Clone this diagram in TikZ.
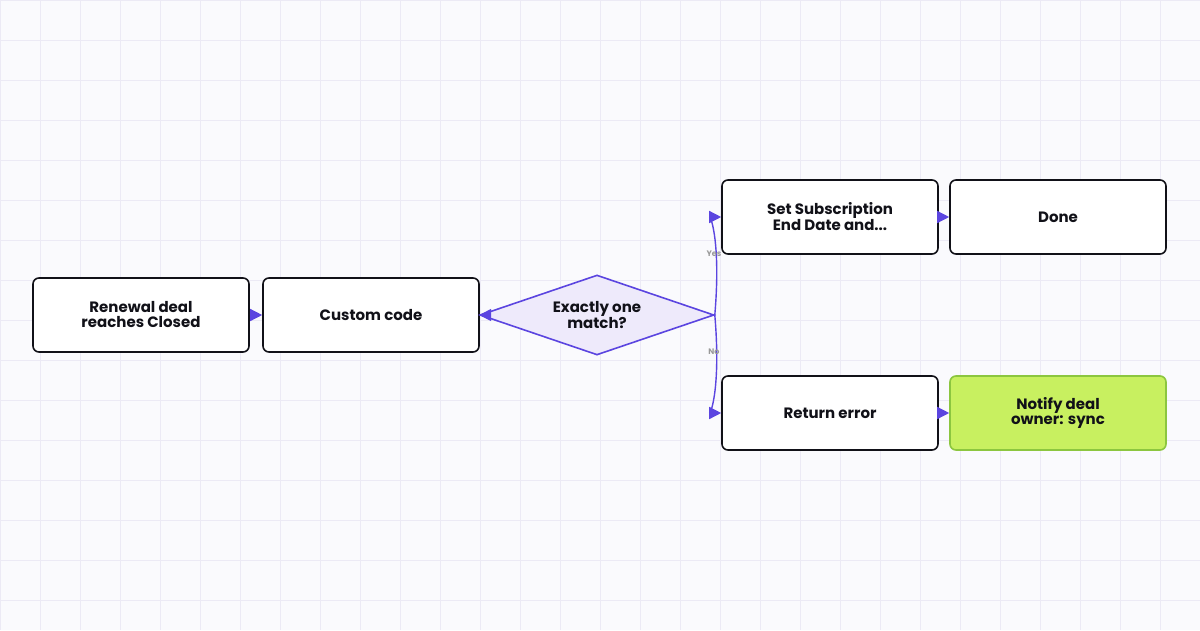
\documentclass[tikz,border=0pt]{standalone}
\usepackage{fontspec}
\setmainfont{Poppins}
\usetikzlibrary{arrows.meta,shapes.geometric}
\definecolor{flowpurple}{HTML}{5B45E0}
\definecolor{diamondfill}{HTML}{EEEAFB}
\definecolor{limefill}{HTML}{C8F060}
\definecolor{limeline}{HTML}{8CC63F}
\definecolor{gridcolor}{HTML}{ECEAF5}
\definecolor{bgcolor}{HTML}{FAFAFD}
\definecolor{textdark}{HTML}{111118}
\tikzset{
  stepbox/.style={draw=textdark, line width=1.6pt, rounded corners=6pt, fill=white,
    minimum width=216pt, minimum height=74pt, align=center, inner sep=2pt,
    font=\fontsize{15}{15}\selectfont\bfseries, text=textdark},
  decision/.style={diamond, draw=flowpurple, line width=1.6pt, fill=diamondfill,
    minimum width=234pt, minimum height=80pt, aspect=2.9, inner sep=0pt, align=center,
    font=\fontsize{15}{15}\selectfont\bfseries, text=textdark},
  flow/.style={draw=flowpurple, line width=1.4pt, -{Triangle[length=12pt,width=12pt]}},
  edgelabel/.style={font=\fontsize{8}{8}\selectfont\bfseries, text=gray!80}
}
\begin{document}
\begin{tikzpicture}[x=1pt,y=-1pt]
  \fill[bgcolor] (0,0) rectangle (1200,630);
  \useasboundingbox (0,0) rectangle (1200,630);
  \foreach \i in {0,40,...,1200} { \draw[gridcolor, line width=0.8pt] (\i,0) -- (\i,630); }
  \foreach \j in {0,40,...,600} { \draw[gridcolor, line width=0.8pt] (0,\j) -- (1200,\j); }
  % nodes
  \node[stepbox] (trigger) at (141,315) {Renewal deal\\reaches Closed};
  \node[stepbox] (code) at (371,315) {Custom code};
  \node[decision, minimum width=234pt, minimum height=80pt] (match) at (597,315) {Exactly one\\match?};
  \node[stepbox] (setdate) at (830,217) {Set Subscription\\End Date and...};
  \node[stepbox] (done) at (1058,217) {Done};
  \node[stepbox] (error) at (830,413) {Return error};
  \node[stepbox, fill=limefill, draw=limeline] (notify) at (1058,413) {Notify deal\\owner: sync};
  % connectors
  \draw[flow] (trigger) -- (code);
  \draw[flow] (code) -- (match.west);
  \draw[flow] (match.east) .. controls +(6,-70) and +(-10,0) .. (setdate.west);
  \draw[flow] (match.east) .. controls +(6,70) and +(-10,0) .. (error.west);
  \draw[flow] (setdate) -- (done);
  \draw[flow] (error) -- (notify);
  \node[edgelabel] (yes) at (714,254) {Yes};
  \node[edgelabel] (no) at (714,352) {No};
\end{tikzpicture}
\end{document}
